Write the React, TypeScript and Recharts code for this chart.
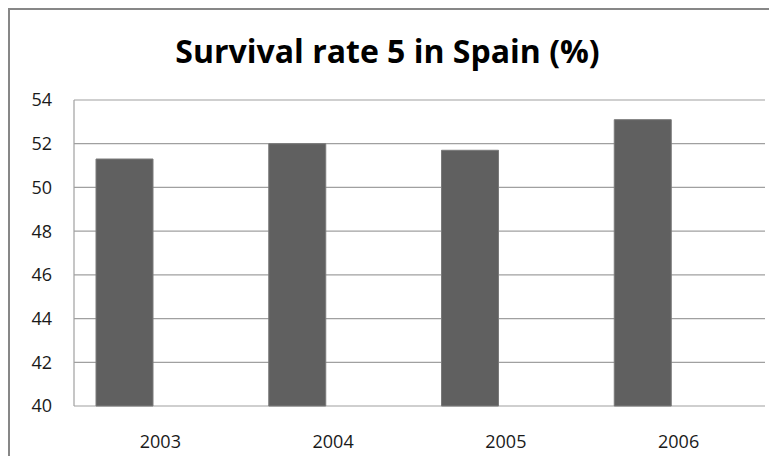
import { Bar, BarChart, CartesianGrid, XAxis, YAxis } from "recharts";

const years = ["2003", "2004", "2005", "2006"];
const survivalRate = [51.3, 52.0, 51.7, 53.1];
// second (empty) series keeps each bar in the left slot of its year, as in the source sheet
const emptySeries: (number | null)[] = [null, null, null, null];
const yTicks = [40, 42, 44, 46, 48, 50, 52, 54];

const data = years.map((year, i) => ({
	year,
	rate: survivalRate[i],
	blank: emptySeries[i],
}));

const FONT = "'Open Sans', 'Noto Sans', sans-serif";
const W = 760;
const H = 446;

export default function App() {
	return (
		<div
			style={{
				position: "relative",
				width: W,
				height: H,
				borderLeft: "2px solid #878787",
				borderTop: "2px solid #878787",
				fontFamily: FONT,
			}}
		>
			<svg
				width={W}
				height={80}
				style={{ position: "absolute", left: 0, top: 0 }}
			>
				<text
					x={377.5}
					y={53}
					textAnchor="middle"
					fontFamily={FONT}
					fontWeight={700}
					fontSize={32}
					fill="#000"
				>
					Survival rate 5 in Spain (%)
				</text>
			</svg>
			<BarChart
				width={W}
				height={H}
				data={data}
				margin={{ top: 90, right: 5, bottom: 0, left: 0 }}
				barSize={57}
				barGap={15}
			>
				<CartesianGrid vertical={false} stroke="#a0a0a0" strokeWidth={1.2} />
				<XAxis
					dataKey="year"
					height={50}
					tickSize={0}
					tickMargin={29}
					axisLine={false}
					tick={{ fontSize: 18, fill: "#1a1a1a", fontFamily: FONT }}
				/>
				<YAxis
					width={64}
					domain={[40, 54]}
					ticks={yTicks}
					tickSize={0}
					tickMargin={22}
					axisLine={{ stroke: "#a0a0a0", strokeWidth: 1.2 }}
					tick={{ fontSize: 18, fill: "#1a1a1a", fontFamily: FONT }}
				/>
				<Bar
					dataKey="rate"
					fill="#606060"
					stroke="#7a7a7a"
					strokeWidth={1}
					isAnimationActive={false}
				/>
				<Bar dataKey="blank" fill="#606060" isAnimationActive={false} />
			</BarChart>
		</div>
	);
}
